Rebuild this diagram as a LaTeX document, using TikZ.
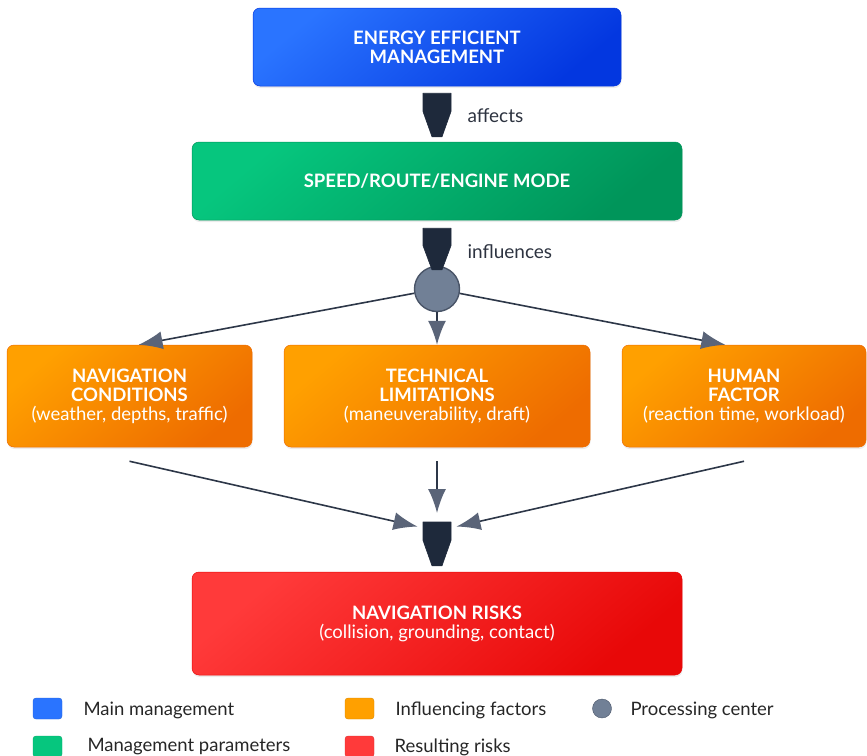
\documentclass[tikz,border=0pt]{standalone}
\usepackage{fontspec}
\setmainfont{Lato}
\usetikzlibrary{calc,positioning,arrows.meta,shadows}
\definecolor{blueA}{HTML}{2A74FF}
\definecolor{blueB}{HTML}{0337E0}
\definecolor{greenA}{HTML}{06C67E}
\definecolor{greenB}{HTML}{00955A}
\definecolor{orangeA}{HTML}{FFA000}
\definecolor{orangeB}{HTML}{EE6C00}
\definecolor{redA}{HTML}{FF3A3A}
\definecolor{redB}{HTML}{E80808}
\definecolor{ink}{HTML}{1E293B}
\definecolor{wire}{HTML}{2D3748}
\definecolor{tipgray}{HTML}{5A6478}
\definecolor{hubfill}{HTML}{718096}
\definecolor{hubline}{HTML}{4A5568}
\definecolor{labeltext}{HTML}{2D3340}
\tikzset{
  % box styles (gradient from top left to bottom right)
  panel/.style 2 args={rounded corners=7pt, draw=#2, line width=0.5pt,
    top color=#1, bottom color=#2, shading angle=40,
    text=white, align=center, inner sep=0pt,
    drop shadow={opacity=0.15,shadow xshift=0.5pt,shadow yshift=-2pt}},
  titlefont/.style={font=\fontsize{18.5}{19}\selectfont\bfseries},
  subfont/.style={font=\fontsize{18.5}{19}\selectfont},
  % processing center
  hub/.style={circle,draw=hubline,fill=hubfill,line width=1.4pt,minimum size=45pt,inner sep=0pt},
  % thick funnel arrow, usage: \draw[funnel=top gap/bottom gap] (a) to (b);
  funnel/.style args={#1/#2}{fill=ink, draw=ink, line width=0.6pt, line join=round,
    to path={let \p1=($(\tikztostart)+(0,#1)$), \p2=($(\tikztotarget)+(0,-#2)$),
      \p3=($(\p1)!0.42!(\p2)$) in
      (\x1-14pt,\y1) -- (\x1+14pt,\y1) -- (\x1+14pt,\y3) -- (\x1+5pt,\y2)
      -- (\x1-5pt,\y2) -- (\x1-14pt,\y3) -- cycle}},
  % thin connectors with grey heads
  link/.style={draw=wire, line width=1.6pt, -{Latex[length=24pt,width=18pt,color=tipgray]}},
  edgelabel/.style={anchor=west, text=labeltext, font=\fontsize{19}{22}\selectfont},
  % legend
  legbox/.style={rounded corners=3pt, minimum width=29pt, minimum height=21pt, inner sep=0pt,
    draw=#1!85!black, line width=0.4pt, fill=#1},
  legtext/.style={anchor=west, text=black!85, font=\fontsize{18.5}{22}\selectfont},
}

\begin{document}
\begin{tikzpicture}[x=1pt,y=-1pt]
  \useasboundingbox (0,0) rectangle (867,755);
  % main boxes
  \node[panel={blueA}{blueB}, titlefont, minimum width=368pt, minimum height=78pt] (mgmt) at (437,47)
    {ENERGY EFFICIENT\\MANAGEMENT};
  \node[panel={greenA}{greenB}, titlefont, minimum width=490pt, minimum height=78pt] (speed) at (437,181)
    {SPEED/ROUTE/ENGINE MODE};
  \node[hub] (center) at (437,289) {};
  \node[panel={orangeA}{orangeB}, subfont, minimum width=245pt, minimum height=102pt] (navcond) at (129.5,396)
    {\bfseries NAVIGATION\\\bfseries CONDITIONS\\(weather, depths, traffic)};
  \node[panel={orangeA}{orangeB}, subfont, minimum width=306pt, minimum height=102pt] (techlim) at (437,396)
    {\bfseries TECHNICAL\\\bfseries LIMITATIONS\\(maneuverability, draft)};
  \node[panel={orangeA}{orangeB}, subfont, minimum width=244pt, minimum height=102pt] (human) at (744,396)
    {\bfseries HUMAN\\\bfseries FACTOR\\(reaction time, workload)};
  \node[panel={redA}{redB}, subfont, minimum width=490pt, minimum height=103pt] (risks) at (437,623.5)
    {\bfseries NAVIGATION RISKS\\(collision, grounding, contact)};
  \coordinate (merge) at (437,522);
  \coordinate (mergemid) at (437,531);

  % connectors
  \draw[funnel=7/5] (mgmt.south) to (speed.north);
  \node[edgelabel] (affects) at (464,116) {affects};
  \draw[link] (center) -- (navcond.80);
  \draw[link] (center) -- (techlim.north);
  \draw[link] (center) -- (human.110);
  \draw[funnel=8/-4] (speed.south) to (center.north);
  \node[edgelabel] (influences) at (464,252) {influences};
  \draw[link, shorten >=20pt] ($(navcond.south)+(0,14)$) -- (mergemid);
  \draw[link, shorten >=9pt] ($(techlim.south)+(0,14)$) -- (merge);
  \draw[link, shorten >=20pt] ($(human.south)+(0,14)$) -- (mergemid);
  \draw[funnel=0/6] (merge) to (risks.north);

  % legend
  \node[legbox=blueA] (legmain) at (47.5,708.5) {};
  \node[legtext] (legmaintxt) at (80,710) {Main management};
  \node[legbox=orangeA] (legfactor) at (359.5,708.5) {};
  \node[legtext] (legfactortxt) at (392,710) {Influencing factors};
  \node[circle, fill=hubfill, draw=hubline, line width=0.4pt, minimum size=19pt, inner sep=0pt] (leghub) at (602,708.5) {};
  \node[legtext] (leghubtxt) at (627,710) {Processing center};
  \node[legbox=greenA] (legparam) at (47.5,746.5) {};
  \node[legtext] (legparamtxt) at (84,747) {Management parameters};
  \node[legbox=redA] (legrisk) at (359.5,746.5) {};
  \node[legtext] (legrisktxt) at (391,747) {Resulting risks};
\end{tikzpicture}
\end{document}
